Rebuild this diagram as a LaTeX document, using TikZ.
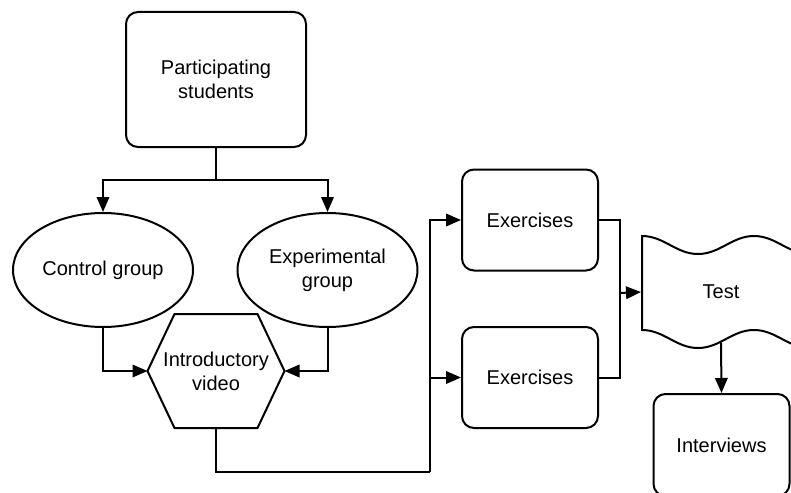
\documentclass[tikz,border=0pt]{standalone}
\usepackage{fontspec}
\setmainfont{Liberation Sans}
\usetikzlibrary{arrows.meta,shapes.geometric}
\begin{document}
\begin{tikzpicture}[x=1pt,y=-1pt,
  line width=2pt,
  every node/.style={font=\fontsize{20}{24}\selectfont, align=center, inner sep=0pt},
  stepbox/.style={draw, rounded corners=12pt},
  group/.style={draw, ellipse, minimum width=180pt, minimum height=114pt},
  flow/.style={-{Triangle[length=15pt,width=12.5pt]}},
]
\useasboundingbox (0,0) rectangle (791,492);

% boxes and groups
\node[stepbox, minimum width=180pt, minimum height=135pt] (stud) at (216,79.5) {Participating\\students};
\node[group] (ctrl) at (103,270) {Control group};
\node[group] (expg) at (327.5,270) {Experimental\\group};

% hexagon for the video
\node[minimum width=135pt, minimum height=112pt] (intro) at (216,371) {Introductory\\video};
\draw (intro.west) -- ([xshift=27pt]intro.north west) -- ([xshift=-27pt]intro.north east)
  -- (intro.east) -- ([xshift=-27pt]intro.south east) -- ([xshift=27pt]intro.south west) -- cycle;

\node[stepbox, minimum width=136pt, minimum height=101pt] (ex1) at (530,220) {Exercises};
\node[stepbox, minimum width=136pt, minimum height=101pt] (ex2) at (530,377.5) {Exercises};

% wavy document shape for the test
\node[minimum width=158pt, minimum height=99pt] (test) at (721,292) {Test};
\draw (642,236)
  .. controls (664,236) and (676,254) .. (698,254)
  .. controls (720,254) and (732,236) .. (754,236)
  .. controls (776,236) and (788,254) .. (810,254)
  -- (810,348)
  .. controls (788,348) and (776,330) .. (754,330)
  .. controls (732,330) and (720,348) .. (698,348)
  .. controls (676,348) and (664,330) .. (642,330)
  -- cycle;

\node[stepbox, minimum width=136pt, minimum height=102pt] (intv) at (721.5,445) {Interviews};

% junction points
\coordinate (junction) at (216,180);
\coordinate (bl) at (430,472);
\coordinate (br) at (620,293);

% connectors
\draw (stud.south) -- (junction);
\draw[flow] (junction) -| (ctrl.north);
\draw[flow] (junction) -| (expg.north);
\draw[flow] (ctrl.south) |- (intro.west);
\draw[flow] (expg.south) |- (intro.east);
\draw (intro.south) |- (bl);
\draw[flow] (bl) |- (ex1.west);
\draw[flow] (bl) |- (ex2.west);
\draw (ex1.east) -| (br);
\draw (ex2.east) -| (br);
\draw[flow] (br) -- (test.west);
\draw[flow] (test.south) -- (intv.north);
\end{tikzpicture}
\end{document}
